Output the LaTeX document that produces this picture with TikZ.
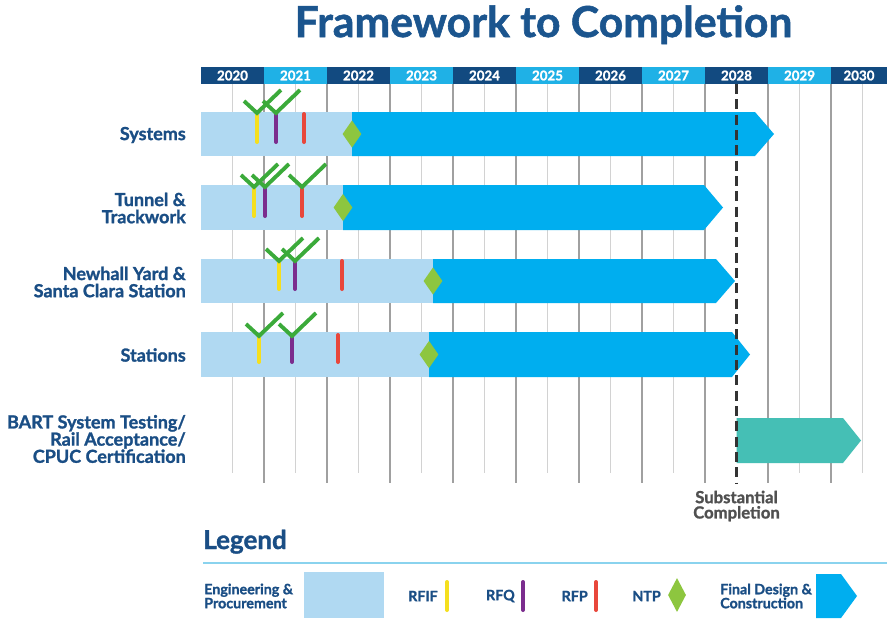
\documentclass[tikz,border=0pt]{standalone}
\usepackage{fontspec}
\setmainfont{Lato}[BoldFeatures={FakeBold=1.3}]
\usetikzlibrary{shapes.geometric}
\definecolor{navy}{HTML}{124A80}
\definecolor{hcyan}{HTML}{1FB1E6}
\definecolor{txtnavy}{HTML}{1A4E85}
\definecolor{titleblue}{HTML}{1B558E}
\definecolor{eng}{HTML}{B0D9F2}
\definecolor{fdc}{HTML}{00AEEF}
\definecolor{teal}{HTML}{45BFB5}
\definecolor{chk}{HTML}{3BAA3A}
\definecolor{ntp}{HTML}{8DC63F}
\definecolor{rfif}{HTML}{F5DF1E}
\definecolor{rfq}{HTML}{7B2D8E}
\definecolor{rfp}{HTML}{E8473B}
\definecolor{gridd}{HTML}{A0A0A0}
\definecolor{gridl}{HTML}{D2D2D2}
\definecolor{legline}{HTML}{8AD3EE}
\definecolor{subst}{HTML}{505050}
\tikzset{
  yearlbl/.style={text=white, font=\bfseries\fontsize{10}{10}\selectfont, inner sep=0},
  rowlbl/.style={text=txtnavy, font=\bfseries\fontsize{13.5}{12.9}\selectfont, align=right, anchor=east, inner sep=0},
  leglbl/.style={text=txtnavy, font=\bfseries\fontsize{10.7}{10.5}\selectfont, align=left, inner sep=0},
  mk/.style={line width=3pt, line cap=round},
  check/.style={draw=chk, line width=2.9pt},
  ntpd/.style={diamond, fill=ntp, minimum width=14.25pt, minimum height=20.5pt, inner sep=0},
}
\newcommand\mychk[2]{\draw[check] (#1-13,#2-12) -- (#1,#2) -- (#1+24,#2-23);}
\begin{document}
\begin{tikzpicture}[x=0.75pt,y=-0.75pt]
\useasboundingbox (0,0) rectangle (887,618);
\fill[white] (0,0) rectangle (887,618);
% title
\node[text=titleblue, font=\bfseries\fontsize{32}{36}\selectfont, anchor=base, inner sep=0] (title) at (543.5,37) {Framework to Completion};
% grid
\foreach \i in {0,...,10} {
  \ifnum\i=8\else
  \draw[gridl, line width=1.3pt] (232.5+63*\i,84) -- (232.5+63*\i,473);
  \fi
}
\foreach \i in {1,...,10} {
  \draw[gridd, line width=1.3pt] (201+63*\i,84) -- (201+63*\i,483);
}
% header
\foreach \yr [count=\i from 0] in {2020,...,2030} {
  \pgfmathsetmacro{\xa}{201+63*\i}
  \pgfmathsetmacro{\xb}{min(201+63*(\i+1),887)}
  \ifodd\i \def\hc{hcyan}\else\def\hc{navy}\fi
  \fill[\hc] (\xa,67) rectangle (\xb,84);
  \node[yearlbl] (y\yr) at ({(\xa+\xb)/2},75.5) {\yr};
}
% substantial completion dashed line
\coordinate (sctop) at (736.5,84);
\coordinate (scbot) at (736.5,483);
% rows
% Systems
\fill[eng] (201,112) rectangle (352,156);
\fill[fdc] (352,112) -- (755,112) -- (774,134) -- (755,156) -- (352,156) -- cycle;
\node[ntpd] (ntp1) at (352,134) {};
\draw[mk, rfif] (257,115) -- (257,142);
\draw[mk, rfq] (276,115) -- (276,142);
\draw[mk, rfp] (304,114) -- (304,142);
\mychk{257}{113}
\mychk{276}{113}
% Tunnel
\fill[eng] (201,185) rectangle (343,230);
\fill[fdc] (343,185) -- (704,185) -- (723,207.5) -- (704,230) -- (343,230) -- cycle;
\node[ntpd] (ntp2) at (343,207.5) {};
\draw[mk, rfif] (254,189) -- (254,216);
\draw[mk, rfq] (265,189) -- (265,216);
\draw[mk, rfp] (302,189) -- (302,216);
\mychk{254}{187}
\mychk{265}{187}
\mychk{302}{187}
% Newhall
\fill[eng] (201,259) rectangle (433,303);
\fill[fdc] (433,259) -- (716,259) -- (735,281) -- (716,303) -- (433,303) -- cycle;
\node[ntpd] (ntp3) at (433,281) {};
\draw[mk, rfif] (279,263) -- (279,289);
\draw[mk, rfq] (295,263) -- (295,289);
\draw[mk, rfp] (342,261) -- (342,289);
\mychk{279}{261}
\mychk{295}{261}
% Stations
\fill[eng] (201,332) rectangle (429,377);
\fill[fdc] (429,332) -- (732,332) -- (750,354.5) -- (732,377) -- (429,377) -- cycle;
\node[ntpd] (ntp4) at (429,354.5) {};
\draw[mk, rfif] (259,338) -- (259,362);
\draw[mk, rfq] (292,338) -- (292,362);
\draw[mk, rfp] (338,335) -- (338,362);
\mychk{259}{336}
\mychk{292}{336}
% BART
\fill[teal] (736.5,418) -- (843,418) -- (861,440.5) -- (843,463) -- (736.5,463) -- cycle;
\draw[black!80, line width=1.6pt, dash pattern=on 7.5pt off 4pt] (sctop) -- (scbot);
% row labels
\node[rowlbl] (l1) at (186,135) {Systems};
\node[rowlbl] (l2) at (186,208) {Tunnel \&\\Trackwork};
\node[rowlbl] (l3) at (186,282) {Newhall Yard \&\\Santa Clara Station};
\node[rowlbl] (l4) at (186,355) {Stations};
\node[rowlbl] (l5) at (186,439) {BART System Testing/\\Rail Acceptance/\\CPUC Certification};
\node[text=subst, font=\bfseries\fontsize{12.5}{11.5}\selectfont, align=center, inner sep=0] (sc) at (736.5,506) {Substantial\\Completion};
% legend
\node[text=txtnavy, font=\bfseries\fontsize{19.5}{20}\selectfont, anchor=base west, inner sep=0] (leg) at (203,549) {Legend};
\draw[legline, line width=1.5pt] (203,563) -- (887,563);
\node[leglbl, anchor=west] (le1) at (204,596) {Engineering \&\\Procurement};
\fill[eng] (304,572) rectangle (384,618);
\node[leglbl, anchor=east] (le2) at (438,596) {RFIF};
\draw[mk, rfif] (447,582) -- (447,610);
\node[leglbl, anchor=east] (le3) at (515,596) {RFQ};
\draw[mk, rfq] (523,582) -- (523,610);
\node[leglbl, anchor=east] (le4) at (588,596) {RFP};
\draw[mk, rfp] (596,582) -- (596,610);
\node[leglbl, anchor=east] (le5) at (661,596) {NTP};
\node[ntpd, minimum width=13.5pt, minimum height=25.5pt] (ntpl) at (677,595) {};
\node[leglbl, anchor=west] (le6) at (720,596) {Final Design \&\\Construction};
\fill[fdc] (816,574) -- (841,574) -- (857,596) -- (841,618) -- (816,618) -- cycle;
\end{tikzpicture}
\end{document}
